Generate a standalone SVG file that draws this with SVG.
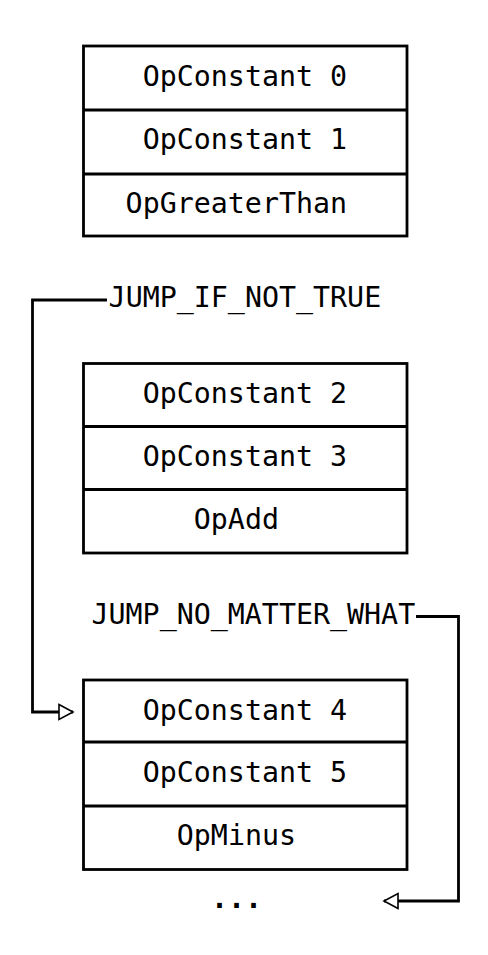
<svg xmlns="http://www.w3.org/2000/svg" width="488" height="955" viewBox="0 0 488 955">
<defs>
<style>
.box{fill:none;stroke:#000;stroke-width:2.8}
.div{stroke:#000;stroke-width:2.8}
.lbl{font-family:"DejaVu Sans Mono","Liberation Mono",monospace;font-size:28.3px;fill:#000}
.dots{font-family:"DejaVu Sans Mono","Liberation Mono",monospace;font-size:28.3px;font-weight:bold;fill:#000}
.conn{fill:none;stroke:#000;stroke-width:2.8}
</style>
<marker id="tri" markerUnits="userSpaceOnUse" markerWidth="20" markerHeight="20" refX="15" refY="9" orient="auto">
<path d="M1,1.5 L15,9 L1,16.5 Z" fill="#fff" stroke="#000" stroke-width="1.6"/>
</marker>
</defs>
<rect width="488" height="955" fill="#fff"/>
<g id="block1">
<rect class="box" x="83.5" y="46" width="323.5" height="190"/>
<line class="div" x1="83.5" y1="110" x2="407" y2="110"/>
<line class="div" x1="83.5" y1="174" x2="407" y2="174"/>
<text class="lbl" x="142.7" y="86">OpConstant 0</text>
<text class="lbl" x="142.7" y="149">OpConstant 1</text>
<text class="lbl" x="125.6" y="213">OpGreaterThan</text>
</g>
<g id="block2">
<rect class="box" x="83.5" y="363.5" width="323.5" height="189.5"/>
<line class="div" x1="83.5" y1="426.5" x2="407" y2="426.5"/>
<line class="div" x1="83.5" y1="489.5" x2="407" y2="489.5"/>
<text class="lbl" x="142.7" y="403">OpConstant 2</text>
<text class="lbl" x="142.7" y="466">OpConstant 3</text>
<text class="lbl" x="193.8" y="529">OpAdd</text>
</g>
<g id="block3">
<rect class="box" x="83.5" y="680" width="323.5" height="189.5"/>
<line class="div" x1="83.5" y1="742" x2="407" y2="742"/>
<line class="div" x1="83.5" y1="806" x2="407" y2="806"/>
<text class="lbl" x="142.7" y="719.5">OpConstant 4</text>
<text class="lbl" x="142.7" y="782">OpConstant 5</text>
<text class="lbl" x="176.8" y="845">OpMinus</text>
</g>
<g id="label-jump-if-not-true">
<text class="lbl" x="108.6" y="307">JUMP_IF_NOT_TRUE</text>
</g>
<g id="label-jump-no-matter-what">
<text class="lbl" x="91.5" y="624">JUMP_NO_MATTER_WHAT</text>
</g>
<g id="ellipsis">
<text class="dots" x="210.9" y="908">...</text>
</g>
<g id="connectors">
<path class="conn" d="M107,300 H32.5 V712 H73" marker-end="url(#tri)"/>
<path class="conn" d="M416,616.5 H458.5 V901 H384" marker-end="url(#tri)"/>
</g>
</svg>
